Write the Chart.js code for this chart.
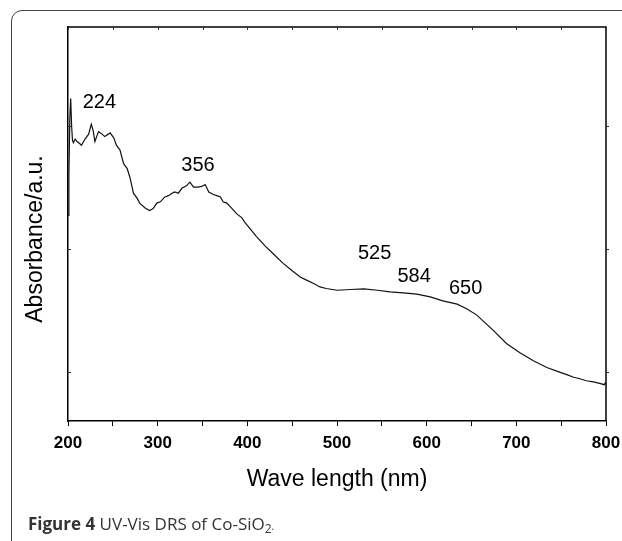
<!DOCTYPE html>
<html>
<head>
<meta charset="utf-8">
<script src="https://cdn.jsdelivr.net/npm/chart.js@4"></script>
<style>
  html, body { margin: 0; padding: 0; background: #fff; }
  #wrap { position: relative; width: 622px; height: 541px; overflow: hidden; }
  #frame { position: absolute; left: 11px; top: 10px; width: 700px; height: 700px;
           border: 1.5px solid #444; border-radius: 11px; box-sizing: border-box; }
  #c { position: absolute; left: 0; top: 0; }
  #caption { position: absolute; left: 28px; top: 513px; font: 17px "Open Sans", sans-serif;
             color: #333; line-height: 22px; white-space: nowrap; }
  #caption b { font-weight: 700; }
  #caption sub { font-size: 12px; vertical-align: -3px; line-height: 0; }
  #caption .dot { font-size: 10px; }
</style>
</head>
<body>
<div id="wrap">
  <div id="frame"></div>
  <canvas id="c" width="622" height="541"></canvas>
  <div id="caption"><b>Figure 4</b> UV-Vis DRS of Co-SiO<sub>2</sub><span class="dot">.</span></div>
</div>
<script>
// Wavelength (nm) and absorbance (a.u.)
const wavelengths = [200,201,202,203,204,205,206,208,210,212,215,219,223,226,228,230,234,238,241,247,251,254,258,262,266,269,273,277,280,286,291,295,299,303,308,312,316,319,323,327,332,336,340,345,349,353,357,362,366,370,373,377,383,388,394,397,403,410,420,430,440,450,459,466,474,481,488,500,515,530,545,559,574,589,604,618,634,645,656,661,674,689,704,719,734,749,757,764,770,778,786,793,798,800];
const absorbance = [2.27,2.6,3.05,3.22,3.0,2.88,2.86,2.89,2.87,2.86,2.84,2.89,2.93,3.01,2.96,2.87,2.95,2.93,2.91,2.94,2.90,2.84,2.80,2.69,2.65,2.58,2.45,2.41,2.37,2.33,2.31,2.325,2.37,2.38,2.42,2.43,2.45,2.46,2.45,2.49,2.51,2.54,2.50,2.50,2.505,2.52,2.46,2.44,2.43,2.42,2.38,2.37,2.325,2.284,2.25,2.216,2.162,2.10,2.02,1.95,1.88,1.82,1.77,1.744,1.717,1.689,1.676,1.662,1.668,1.673,1.662,1.649,1.64,1.63,1.608,1.576,1.549,1.51,1.46,1.425,1.338,1.23,1.154,1.089,1.035,0.995,0.975,0.955,0.945,0.927,0.918,0.906,0.895,0.915];
const xMajorTicks = [200,300,400,500,600,700,800];
const yTicks = [1,2,3];
const peakLabels = ['224','356','525','584','650'];
const peakLabelX = [235,345,542,586,643.5];
const peakLabelY = [3.19,2.676,1.96,1.776,1.676];

const points = wavelengths.map((w, i) => ({x: w, y: absorbance[i]}));

const decor = {
  id: 'decor',
  afterDraw(chart) {
    const {ctx, chartArea: a, scales: {x, y}} = chart;
    ctx.save();
    ctx.strokeStyle = '#000';
    ctx.lineWidth = 1.5;
    // top and right frame lines
    ctx.beginPath();
    ctx.moveTo(a.left, a.top); ctx.lineTo(a.right, a.top); ctx.lineTo(a.right, a.bottom);
    ctx.stroke();
    ctx.lineWidth = 1;
    ctx.strokeStyle = '#333';
    // top ticks (inward)
    for (let v = 200; v <= 800; v += 50) {
      const px = Math.round(x.getPixelForValue(v)) + 0.5;
      ctx.beginPath(); ctx.moveTo(px, a.top); ctx.lineTo(px, a.top + 3); ctx.stroke();
    }
    // left (inward) and right (outward) ticks
    yTicks.forEach(v => {
      const py = Math.round(y.getPixelForValue(v)) + 0.5;
      ctx.beginPath(); ctx.moveTo(a.left, py); ctx.lineTo(a.left + 3, py); ctx.stroke();
      ctx.beginPath(); ctx.moveTo(a.right, py); ctx.lineTo(a.right + 3, py); ctx.stroke();
    });
    // peak annotations
    ctx.fillStyle = '#000';
    ctx.font = '20px "Liberation Sans", Arial, sans-serif';
    ctx.textAlign = 'center';
    ctx.textBaseline = 'middle';
    peakLabels.forEach((t, i) => {
      ctx.fillText(t, x.getPixelForValue(peakLabelX[i]), y.getPixelForValue(peakLabelY[i]));
    });
    // y-axis title
    ctx.font = '23px "Liberation Sans", Arial, sans-serif';
    ctx.translate(a.left - 32, a.top + 212);
    ctx.rotate(-Math.PI / 2);
    ctx.fillText('Absorbance/a.u.', 0, 0);
    ctx.restore();
  }
};

new Chart(document.getElementById('c'), {
  type: 'line',
  data: {
    datasets: [{
      data: points,
      borderColor: '#111',
      borderWidth: 1.2,
      pointRadius: 0,
      tension: 0,
      fill: false
    }]
  },
  options: {
    responsive: false,
    animation: false,
    events: [],
    layout: { padding: { left: 0, right: 16, top: 27, bottom: 0 } },
    plugins: { legend: { display: false }, tooltip: { enabled: false } },
    scales: {
      x: {
        type: 'linear', min: 200, max: 800,
        afterFit: s => { s.height = 120; s.paddingLeft = 0; s.paddingRight = 0; },
        afterBuildTicks: s => { s.ticks = []; for (let v = 200; v <= 800; v += 50) s.ticks.push({value: v}); },
        ticks: {
          autoSkip: false, maxRotation: 0, padding: 7, color: '#000',
          font: { family: '"Liberation Sans", Arial, sans-serif', size: 17, weight: 'bold' },
          callback: v => xMajorTicks.includes(v) ? String(v) : ''
        },
        grid: { display: true, drawOnChartArea: false, drawTicks: true, tickLength: 5, color: '#000', lineWidth: 1 },
        border: { display: true, color: '#000', width: 1.5 },
        title: {
          display: true, text: 'Wave length (nm)', color: '#000',
          font: { family: '"Liberation Sans", Arial, sans-serif', size: 23 },
          padding: { top: 0, bottom: 48 }
        }
      },
      y: {
        type: 'linear', min: 0.6, max: 3.8,
        afterFit: s => { s.width = 68; },
        ticks: { display: false },
        grid: { display: false },
        border: { display: true, color: '#000', width: 1.5 }
      }
    }
  },
  plugins: [decor]
});
</script>
</body>
</html>
